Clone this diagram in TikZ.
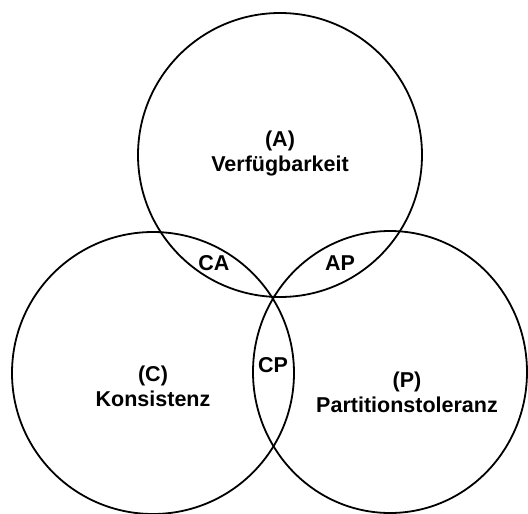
\documentclass[tikz,border=0pt]{standalone}
\usepackage{fontspec}
\setmainfont{Liberation Sans}
\begin{document}
\begin{tikzpicture}[x=1pt,y=-1pt,
  ring/.style={draw=black,line width=1.8pt},
  setlabel/.style={font=\bfseries\fontsize{21.5}{25}\selectfont,align=center,inner sep=0pt},
  zonelabel/.style={font=\bfseries\fontsize{21.5}{25}\selectfont,inner sep=0pt}]
\useasboundingbox (0,0) rectangle (528,514);
% set centres
\coordinate (cA) at (280,155);
\coordinate (cC) at (153,373);
\coordinate (cP) at (390,372);
% the three sets
\draw[ring] (cA) circle [radius=142];
\draw[ring] (cC) circle [radius=141];
\draw[ring] (cP) ellipse [x radius=137, y radius=141];
% set names
\node[setlabel] (lA) at (280,153) {(A)\\Verfügbarkeit};
\node[setlabel] (lC) at (153,386) {(C)\\Konsistenz};
\node[setlabel] (lP) at (407,392) {(P)\\Partitionstoleranz};
% pairwise overlaps
\node[zonelabel] (lCA) at (214,263) {CA};
\node[zonelabel] (lAP) at (340,263) {AP};
\node[zonelabel] (lCP) at (273,365) {CP};
\end{tikzpicture}
\end{document}
